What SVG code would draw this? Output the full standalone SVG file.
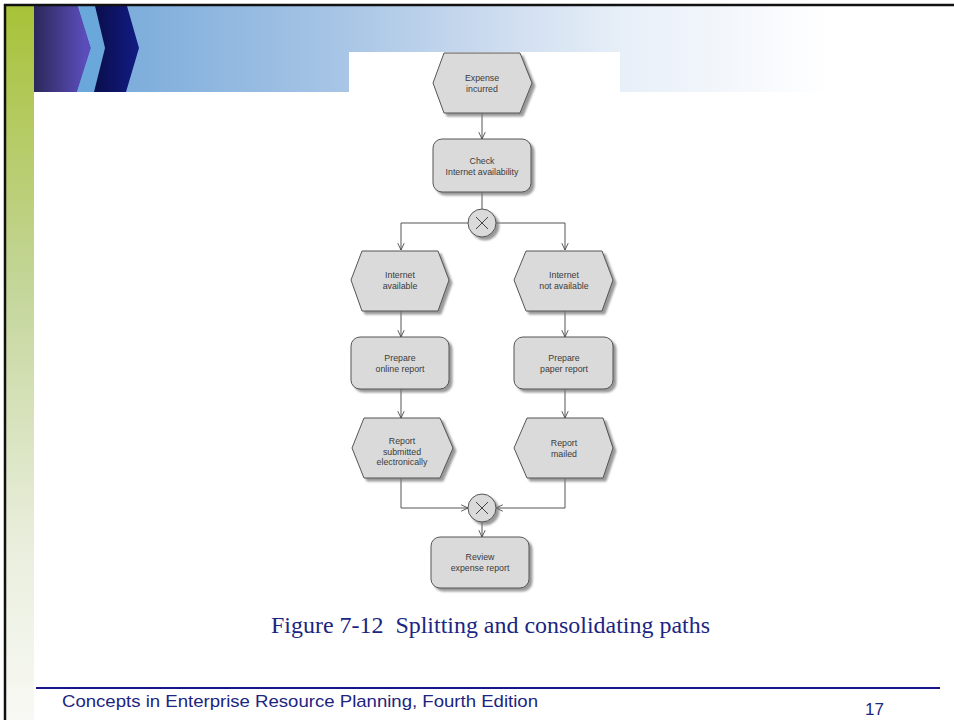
<svg xmlns="http://www.w3.org/2000/svg" width="954" height="720" viewBox="0 0 954 720">
<defs>
<linearGradient id="band" gradientUnits="userSpaceOnUse" x1="90" y1="0" x2="830" y2="0">
<stop offset="0" stop-color="#76a9da"/>
<stop offset="0.35" stop-color="#a9c6e6"/>
<stop offset="0.55" stop-color="#cddcef"/>
<stop offset="0.72" stop-color="#e7eff8"/>
<stop offset="1" stop-color="#ffffff"/>
</linearGradient>
<linearGradient id="purple" gradientUnits="userSpaceOnUse" x1="34" y1="0" x2="85" y2="0">
<stop offset="0" stop-color="#2c285a"/>
<stop offset="1" stop-color="#5b4dbb"/>
</linearGradient>
<linearGradient id="navy" gradientUnits="userSpaceOnUse" x1="95" y1="0" x2="139" y2="0">
<stop offset="0" stop-color="#0a0e4c"/>
<stop offset="1" stop-color="#121c84"/>
</linearGradient>
<linearGradient id="green" x1="0" y1="0" x2="0" y2="1">
<stop offset="0" stop-color="#a8c238"/>
<stop offset="0.4" stop-color="#c5d69b"/>
<stop offset="0.75" stop-color="#e9eedc"/>
<stop offset="1" stop-color="#f8f9f4"/>
</linearGradient>
<filter id="sh" x="-20%" y="-20%" width="140%" height="140%">
<feDropShadow dx="3" dy="3" stdDeviation="1.3" flood-color="#777" flood-opacity="0.75"/>
</filter>
<marker id="arr" viewBox="0 0 10 10" refX="9.5" refY="5" markerWidth="8" markerHeight="8" markerUnits="userSpaceOnUse" orient="auto">
<path d="M1,1 L9.5,5 L1,9" fill="none" stroke="#444" stroke-width="1.1"/>
</marker>
<style>
.node{fill:#dadada;stroke:#555;stroke-width:1;filter:url(#sh)}
.lbl{font-family:"Liberation Sans",Arial,sans-serif;font-size:8.8px;fill:#3a3a3a;text-anchor:middle}
.con{fill:none;stroke:#555;stroke-width:1}
.ca{marker-end:url(#arr)}
</style>
</defs>
<rect x="0" y="0" width="954" height="720" fill="#ffffff"/>
<g id="background">
<rect x="6" y="6" width="28" height="714" fill="url(#green)"/>
<rect x="34" y="6" width="800" height="86" fill="url(#band)"/>
<polygon points="34,6 78,6 91,48 77,92 34,92" fill="url(#purple)"/>
<polygon points="78,6 95,6 105,48 94,92 77,92 91,48" fill="#6aa8dc"/>
<polygon points="95,6 127,6 139,48 126,92 94,92 105,48" fill="url(#navy)"/>
<rect x="349" y="52" width="271" height="40" fill="#ffffff"/>
<line x1="4" y1="5" x2="954" y2="5" stroke="#111" stroke-width="2.5"/>
<line x1="5" y1="4" x2="5" y2="720" stroke="#111" stroke-width="2.5"/>
</g>
<g id="connectors">
<path class="con ca" d="M482,113 V139"/>
<path class="con" d="M482,192 V209"/>
<path class="con ca" d="M468,223 H401 V250"/>
<path class="con ca" d="M496,223 H565 V250"/>
<path class="con ca" d="M401,311 V337"/>
<path class="con ca" d="M565,311 V337"/>
<path class="con ca" d="M401,389 V418"/>
<path class="con ca" d="M565,389 V418"/>
<path class="con ca" d="M401,478 V508 H468"/>
<path class="con ca" d="M565,478 V508 H496"/>
<path class="con ca" d="M482,522 V537"/>
</g>
<g id="expense-incurred">
<polygon class="node" points="433,83 444,53 520,53 532,83 520,113 444,113"/>
<text class="lbl" x="482" y="81">Expense</text>
<text class="lbl" x="482" y="92">incurred</text>
</g>
<g id="check-internet">
<rect class="node" x="433" y="139" width="98" height="53" rx="9"/>
<text class="lbl" x="482" y="164">Check</text>
<text class="lbl" x="482" y="175">Internet availability</text>
</g>
<g id="xor-split">
<circle class="node" cx="482" cy="223" r="14"/>
<path d="M476,217 L488,229 M488,217 L476,229" stroke="#444" stroke-width="1" fill="none"/>
</g>
<g id="internet-available">
<polygon class="node" points="351,280 362,251 438,251 449,280 438,311 362,311"/>
<text class="lbl" x="400" y="278">Internet</text>
<text class="lbl" x="400" y="289">available</text>
</g>
<g id="internet-not-available">
<polygon class="node" points="514,280 526,251 602,251 613,280 602,311 526,311"/>
<text class="lbl" x="564" y="278">Internet</text>
<text class="lbl" x="564" y="289">not available</text>
</g>
<g id="prepare-online">
<rect class="node" x="351" y="337" width="98" height="52" rx="9"/>
<text class="lbl" x="400" y="361">Prepare</text>
<text class="lbl" x="400" y="372">online report</text>
</g>
<g id="prepare-paper">
<rect class="node" x="514" y="337" width="99" height="52" rx="9"/>
<text class="lbl" x="564" y="361">Prepare</text>
<text class="lbl" x="564" y="372">paper report</text>
</g>
<g id="report-electronic">
<polygon class="node" points="352,448 364,418 440,418 453,448 440,478 364,478"/>
<text class="lbl" x="402" y="444">Report</text>
<text class="lbl" x="402" y="455">submitted</text>
<text class="lbl" x="402" y="465">electronically</text>
</g>
<g id="report-mailed">
<polygon class="node" points="514,448 527,418 603,418 613,448 603,478 527,478"/>
<text class="lbl" x="564" y="446">Report</text>
<text class="lbl" x="564" y="457">mailed</text>
</g>
<g id="xor-join">
<circle class="node" cx="482" cy="508" r="14"/>
<path d="M476,502 L488,514 M488,502 L476,514" stroke="#444" stroke-width="1" fill="none"/>
</g>
<g id="review-report">
<rect class="node" x="431" y="537" width="98" height="51" rx="9"/>
<text class="lbl" x="480" y="560">Review</text>
<text class="lbl" x="480" y="571">expense report</text>
</g>
<g id="texts">
<text x="271" y="633" xml:space="preserve" font-family="'Liberation Serif','Times New Roman',serif" font-size="23" fill="#1c2580" textLength="439" lengthAdjust="spacingAndGlyphs">Figure 7-12  Splitting and consolidating paths</text>
<line x1="36" y1="688" x2="940" y2="688" stroke="#14168a" stroke-width="2"/>
<text x="62" y="707" font-family="'Liberation Sans',Arial,sans-serif" font-size="17" fill="#1c2580" textLength="476" lengthAdjust="spacingAndGlyphs">Concepts in Enterprise Resource Planning, Fourth Edition</text>
<text x="865" y="715" font-family="'Liberation Sans',Arial,sans-serif" font-size="17" fill="#1c2580">17</text>
</g>
</svg>
